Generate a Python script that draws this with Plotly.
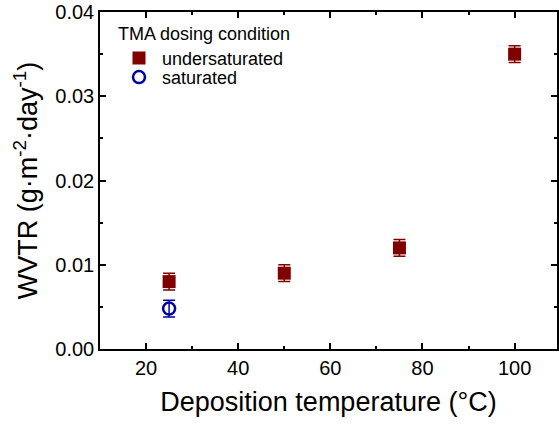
import plotly.graph_objects as go

# Data
temp_under = [25, 50, 75, 100]
wvtr_under = [0.0080, 0.0090, 0.0120, 0.0350]
err_under = [0.0010, 0.0010, 0.0010, 0.0010]

temp_sat = [25]
wvtr_sat = [0.0048]
err_sat = [0.0010]

red = "#800000"
blue = "#0000A8"
font = "Liberation Sans, Arial, sans-serif"

fig = go.Figure()
fig.add_trace(go.Scatter(
    x=temp_under, y=wvtr_under, mode="markers", name="undersaturated",
    marker=dict(symbol="square", size=13, color=red),
    error_y=dict(type="data", array=err_under, color=red, thickness=1.5, width=6),
    legend="legend",
))
fig.add_trace(go.Scatter(
    x=temp_sat, y=wvtr_sat, mode="markers", name="saturated",
    marker=dict(symbol="circle-open", size=12, color=blue, line=dict(width=2.5, color=blue)),
    error_y=dict(type="data", array=err_sat, color=blue, thickness=1.5, width=6),
    legend="legend2",
))

axis_common = dict(
    showline=True, linecolor="black", linewidth=1.5, mirror="ticks",
    ticks="inside", ticklen=6, tickwidth=1.5, tickcolor="black",
    showgrid=False, zeroline=False,
    tickfont=dict(size=20, color="black", family=font),
)

legend_common = dict(
    font=dict(size=18, family=font),
    xanchor="left", yanchor="top",
    bgcolor="rgba(0,0,0,0)", itemwidth=36,
)

fig.update_layout(
    width=559, height=428,
    margin=dict(l=100, r=0, t=12, b=79),
    paper_bgcolor="white", plot_bgcolor="white",
    font=dict(family=font, color="black"),
    showlegend=True,
    legend=dict(
        title=dict(text="TMA dosing condition", font=dict(size=18, family=font)),
        x=0.035, y=0.987, **legend_common,
    ),
    legend2=dict(x=0.035, y=0.861, **legend_common),
    xaxis=dict(
        range=[10, 109.2], tick0=0, dtick=20,
        minor=dict(dtick=10, ticks="inside", ticklen=3, tickwidth=1.5, tickcolor="black"),
        title=dict(text="Deposition temperature (°C)", font=dict(size=27, family=font), standoff=14),
        **axis_common,
    ),
    yaxis=dict(
        range=[0, 0.04], tick0=0, dtick=0.01, tickformat=".2f",
        minor=dict(dtick=0.005, ticks="inside", ticklen=3, tickwidth=1.5, tickcolor="black"),
        title=dict(text="WVTR (g·m<sup>-2</sup>·day<sup>-1</sup>)", font=dict(size=27, family=font), standoff=10),
        **axis_common,
    ),
)

fig.write_html("out.html")
